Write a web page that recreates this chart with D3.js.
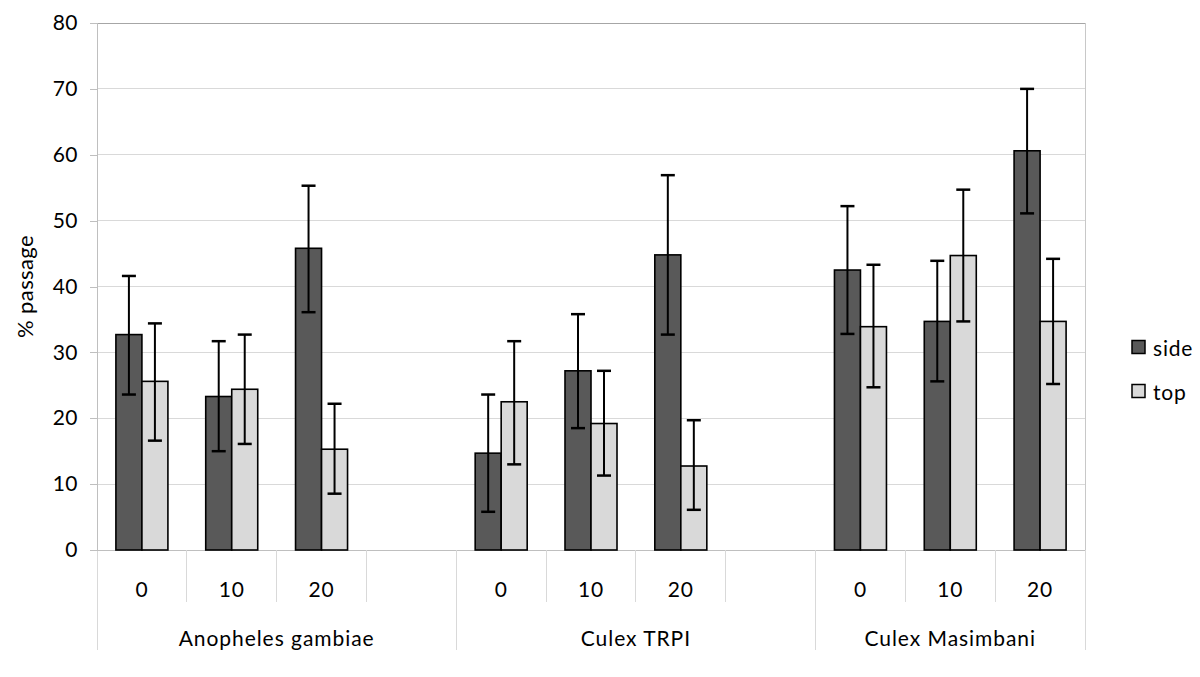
<!DOCTYPE html>
<html>
<head>
<meta charset="utf-8">
<script src="https://cdn.jsdelivr.net/npm/d3@7"></script>
<style>
  body { margin: 0; background: #fff; }
  svg { display: block; }
  text { font-family: Lato, "Open Sans", sans-serif; fill: #000; }
</style>
</head>
<body>
<svg id="chart" width="1200" height="677"></svg>
<script>
// ---------- data ----------
const groups = ["Anopheles gambiae", "Culex TRPI", "Culex Masimbani"];
const doses = ["0", "10", "20"];
const seriesNames = ["side", "top"];
const sideValues = [32.7, 23.3, 45.8, 14.7, 27.2, 44.8, 42.5, 34.7, 60.6];
const sideLow    = [23.6, 15.0, 36.1, 5.8, 18.5, 32.7, 32.8, 25.6, 51.1];
const sideHigh   = [41.6, 31.7, 55.3, 23.6, 35.8, 56.9, 52.2, 43.9, 70.0];
const topValues  = [25.6, 24.4, 15.3, 22.5, 19.2, 12.75, 33.9, 44.7, 34.7];
const topLow     = [16.6, 16.1, 8.55, 13.0, 11.3, 6.1, 24.7, 34.7, 25.2];
const topHigh    = [34.4, 32.7, 22.2, 31.7, 27.2, 19.7, 43.3, 54.7, 44.2];
const yTicks = [0, 10, 20, 30, 40, 50, 60, 70, 80];
const seriesColors = ["#595959", "#d9d9d9"];

// slots: each group has 3 dose slots + 1 empty spacer slot (except the last group)
const slots = [];
groups.forEach((g, gi) => {
  doses.forEach((d, di) => slots.push({ group: g, dose: d, idx: gi * 3 + di }));
  if (gi < groups.length - 1) slots.push({ group: g, dose: "", idx: null });
});
slots.forEach((s, i) => s.slot = i);

const records = [];
slots.filter(s => s.idx !== null).forEach(s => {
  records.push({ slot: s.slot, series: "side", value: sideValues[s.idx], lo: sideLow[s.idx], hi: sideHigh[s.idx] });
  records.push({ slot: s.slot, series: "top", value: topValues[s.idx], lo: topLow[s.idx], hi: topHigh[s.idx] });
});

// ---------- layout ----------
const svg = d3.select("#chart");
const L = 97, R = 1085, T = 23, B = 550;

const x = d3.scaleBand().domain(slots.map(s => s.slot)).range([L, R]).padding(0);
const xs = d3.scaleBand().domain(seriesNames).range([0, x.bandwidth()]).paddingInner(0).paddingOuter(0.727);
const y = d3.scaleLinear().domain([0, 80]).range([B, T]);
const color = d3.scaleOrdinal().domain(seriesNames).range(seriesColors);

// gridlines
svg.append("g").selectAll("line").data(yTicks.filter(t => t > 0 && t < 80)).join("line")
  .attr("x1", L).attr("x2", R).attr("y1", d => y(d)).attr("y2", d => y(d))
  .attr("stroke", "#d9d9d9").attr("stroke-width", 1).attr("shape-rendering", "crispEdges");

// plot border top/right
svg.append("line").attr("x1", L).attr("x2", R).attr("y1", y(80)).attr("y2", y(80))
  .attr("stroke", "#a6a6a6").attr("stroke-width", 1).attr("shape-rendering", "crispEdges");
svg.append("line").attr("x1", R).attr("x2", R).attr("y1", T).attr("y2", B)
  .attr("stroke", "#c8c8c8").attr("stroke-width", 1).attr("shape-rendering", "crispEdges");

// y axis
const yAxis = d3.axisLeft(y).tickValues(yTicks).tickSize(7).tickPadding(12).tickFormat(d3.format("d"));
const yg = svg.append("g").attr("transform", `translate(${L},0)`).call(yAxis);
yg.select(".domain").attr("stroke", "#bfbfbf").attr("shape-rendering", "crispEdges");
yg.selectAll(".tick line").attr("stroke", "#bfbfbf").attr("shape-rendering", "crispEdges");
yg.selectAll(".tick text").attr("font-size", 21).attr("font-family", "Lato, sans-serif")
  .attr("fill", "#000").attr("letter-spacing", 0.5);

// extend left axis line down through the category area
svg.append("line").attr("x1", L).attr("x2", L).attr("y1", B).attr("y2", 650)
  .attr("stroke", "#d9d9d9").attr("shape-rendering", "crispEdges");

// bottom axis line
svg.append("line").attr("x1", L).attr("x2", R).attr("y1", B).attr("y2", B)
  .attr("stroke", "#bfbfbf").attr("shape-rendering", "crispEdges");

// category dividers
slots.forEach((s, i) => {
  const xr = x(s.slot) + x.bandwidth();
  const next = slots[i + 1];
  const isGroupEnd = !next || next.group !== s.group;
  svg.append("line").attr("x1", xr).attr("x2", xr).attr("y1", B).attr("y2", isGroupEnd ? 650 : 602)
    .attr("stroke", "#d9d9d9").attr("shape-rendering", "crispEdges");
});

// dose labels
svg.append("g").selectAll("text").data(slots.filter(s => s.dose !== "")).join("text")
  .attr("x", d => x(d.slot) + x.bandwidth() / 2).attr("y", 588)
  .attr("text-anchor", "middle").attr("dominant-baseline", "central")
  .attr("font-size", 21).attr("letter-spacing", 0.8).text(d => d.dose);

// group labels
svg.append("g").selectAll("text").data(groups).join("text")
  .attr("x", g => {
    const gs = slots.filter(s => s.group === g);
    return (x(gs[0].slot) + x(gs[gs.length - 1].slot) + x.bandwidth()) / 2;
  })
  .attr("y", 637).attr("text-anchor", "middle").attr("dominant-baseline", "central")
  .attr("font-size", 21).attr("letter-spacing", 0.95).text(g => g);

// bars
svg.append("g").selectAll("rect").data(records).join("rect")
  .attr("x", d => x(d.slot) + xs(d.series))
  .attr("width", xs.bandwidth())
  .attr("y", d => y(d.value))
  .attr("height", d => y(0) - y(d.value))
  .attr("fill", d => color(d.series))
  .attr("stroke", "#000").attr("stroke-width", 1.6);

// error bars
const eb = svg.append("g").selectAll("g").data(records).join("g")
  .attr("transform", d => `translate(${x(d.slot) + xs(d.series) + xs.bandwidth() / 2},0)`);
eb.append("line").attr("x1", 0).attr("x2", 0).attr("y1", d => y(d.hi)).attr("y2", d => y(d.lo))
  .attr("stroke", "#000").attr("stroke-width", 2);
eb.append("line").attr("x1", -7).attr("x2", 7).attr("y1", d => y(d.hi)).attr("y2", d => y(d.hi))
  .attr("stroke", "#000").attr("stroke-width", 2.5);
eb.append("line").attr("x1", -7).attr("x2", 7).attr("y1", d => y(d.lo)).attr("y2", d => y(d.lo))
  .attr("stroke", "#000").attr("stroke-width", 2.5);

// y title
svg.append("text").attr("transform", `translate(24,${(T + B) / 2}) rotate(-90)`)
  .attr("text-anchor", "middle").attr("dominant-baseline", "central")
  .attr("font-size", 22).attr("letter-spacing", 0.4).text("% passage");

// legend
const lg = svg.append("g").selectAll("g").data(seriesNames).join("g")
  .attr("transform", (d, i) => `translate(1132,${347 + i * 44})`);
lg.append("rect").attr("x", 0).attr("y", -6.5).attr("width", 13).attr("height", 13)
  .attr("fill", d => color(d)).attr("stroke", "#000").attr("stroke-width", 1.5);
lg.append("text").attr("x", 21).attr("y", 0).attr("dominant-baseline", "central")
  .attr("font-size", 21).attr("letter-spacing", 0.8).text(d => d);
</script>
</body>
</html>
